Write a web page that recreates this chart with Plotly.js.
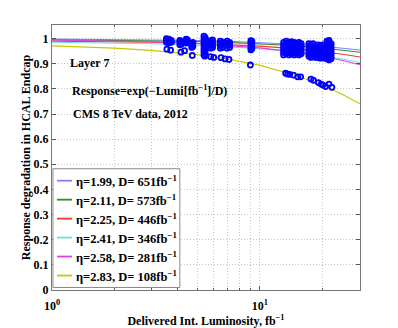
<!DOCTYPE html>
<html>
<head>
<meta charset="utf-8">
<script src="https://cdn.plot.ly/plotly-3.0.1.min.js"></script>
<style>html,body{margin:0;padding:0;background:#fff;}#chart{width:398px;height:328px;}</style>
</head>
<body>
<div id="chart"></div>
<script>
// Fitted curves at these luminosities
const lumiGrid = [1, 2, 3, 5, 7, 10, 15, 20, 25, 31];
const curveNames = [
  "η=1.99, D= 651fb<sup>−1</sup>",
  "η=2.11, D= 573fb<sup>−1</sup>",
  "η=2.25, D= 446fb<sup>−1</sup>",
  "η=2.41, D= 346fb<sup>−1</sup>",
  "η=2.58, D= 281fb<sup>−1</sup>",
  "η=2.83, D= 108fb<sup>−1</sup>"
];
const curveBlue    = [0.9985, 0.9969, 0.9954, 0.9924, 0.9893, 0.9848, 0.9772, 0.9697, 0.9623, 0.9535];
const curveGreen   = [0.9953, 0.9935, 0.9918, 0.9883, 0.9849, 0.9798, 0.9712, 0.9628, 0.9544, 0.9445];
const curveRed     = [0.9898, 0.9876, 0.9854, 0.9809, 0.9766, 0.9700, 0.9592, 0.9485, 0.9379, 0.9254];
const curveCyan    = [0.9851, 0.9823, 0.9795, 0.9738, 0.9682, 0.9599, 0.9461, 0.9325, 0.9191, 0.9033];
const curveMagenta = [0.9945, 0.9909, 0.9874, 0.9804, 0.9734, 0.9631, 0.9461, 0.9295, 0.9131, 0.8938];
const curveYellow  = [0.9710, 0.9620, 0.9532, 0.9357, 0.9185, 0.8933, 0.8529, 0.8143, 0.7775, 0.7355];
const curveColors = ["#8080ff", "#2e8b2e", "#ff3030", "#70e0e0", "#e040e0", "#c8c800"];

// Measured points, lower (η=2.83) group
const lowLumi = [3.57, 3.72, 4.17, 4.34, 4.73, 5.43, 5.8, 6.0, 6.5, 6.8, 7.1, 9.0, 13.3, 13.6, 13.9, 14.5, 15.2, 15.7, 17.6, 18.1, 19.1, 19.7, 20.1, 20.7, 21.5, 22.2];
const lowResp = [0.958, 0.954, 0.946, 0.952, 0.933, 0.930, 0.928, 0.925, 0.924, 0.919, 0.917, 0.895, 0.862, 0.859, 0.858, 0.855, 0.848, 0.848, 0.839, 0.834, 0.825, 0.819, 0.815, 0.809, 0.819, 0.806];

// Measured points, upper group (columns of points at each luminosity)
const topLumi = [3.55, 3.65, 3.75, 4.12, 4.2, 4.42, 4.48, 4.7, 4.76, 5.38, 5.46, 5.8, 5.92, 6.45, 6.6, 6.95, 7.15, 9.05, 9.15,
  13.0, 13.4, 13.8, 14.2, 14.6, 15.0, 15.4, 15.8,
  17.2, 17.6, 18.0, 18.5, 19.0, 19.5, 20.0, 20.5, 21.0, 21.5, 22.0];
const topResp = [
  [0.985, 0.993, 1.0], [0.983, 0.99, 0.998], [0.985, 0.993],
  [0.975, 0.985, 0.993], [0.978, 0.988],
  [0.982, 0.99, 0.998], [0.986, 0.995],
  [0.965, 0.973, 0.981], [0.968, 0.977, 0.985],
  [0.935, 0.948, 0.96, 0.972, 0.985, 0.998, 1.01], [0.94, 0.955, 0.968, 0.98, 0.992, 1.004],
  [0.962, 0.972, 0.982, 0.992], [0.965, 0.975, 0.985, 0.995],
  [0.962, 0.972, 0.982, 0.99], [0.965, 0.975, 0.985],
  [0.962, 0.972, 0.982, 0.99], [0.965, 0.975, 0.985],
  [0.955, 0.965, 0.975, 0.985, 0.992], [0.96, 0.97, 0.98, 0.99],
  [0.935, 0.945, 0.955, 0.965, 0.975, 0.985], [0.94, 0.95, 0.96, 0.97, 0.98, 0.99],
  [0.935, 0.945, 0.955, 0.965, 0.975, 0.985], [0.94, 0.95, 0.96, 0.97, 0.98, 0.988],
  [0.935, 0.945, 0.955, 0.965, 0.975, 0.985], [0.94, 0.95, 0.96, 0.97, 0.98],
  [0.935, 0.945, 0.955, 0.965, 0.975, 0.985], [0.94, 0.95, 0.96, 0.97, 0.98],
  [0.93, 0.94, 0.95, 0.96, 0.97, 0.98], [0.925, 0.935, 0.945, 0.955, 0.965, 0.975],
  [0.93, 0.94, 0.95, 0.96, 0.97, 0.98], [0.925, 0.935, 0.945, 0.955, 0.965],
  [0.925, 0.935, 0.945, 0.955, 0.965, 0.975], [0.922, 0.932, 0.942, 0.952, 0.962, 0.972],
  [0.925, 0.935, 0.945, 0.955, 0.965, 0.975], [0.922, 0.932, 0.942, 0.952, 0.962],
  [0.92, 0.93, 0.94, 0.95, 0.96, 0.97, 0.98, 0.99], [0.915, 0.925, 0.935, 0.945, 0.955, 0.965, 0.975, 0.985, 0.993],
  [0.92, 0.93, 0.94, 0.95, 0.96, 0.97, 0.98]
];

const xTickVals = [1, 10];
const xTickText = ["10<sup>0</sup>", "10<sup>1</sup>"];
const xMinorVals = [2, 3, 4, 5, 6, 7, 8, 9, 20];
const yTickVals = [0, 0.1, 0.2, 0.3, 0.4, 0.5, 0.6, 0.7, 0.8, 0.9, 1];
const yTickText = ["0", "0.1", "0.2", "0.3", "0.4", "0.5", "0.6", "0.7", "0.8", "0.9", "1"];

const curves = [curveBlue, curveGreen, curveRed, curveCyan, curveMagenta, curveYellow];
const traces = curves.map((c, i) => ({
  x: lumiGrid, y: c, type: "scatter", mode: "lines", name: curveNames[i], showlegend: false,
  line: {color: curveColors[i], width: 1.1}
}));

const tx = [], ty = [];
topLumi.forEach((l, i) => topResp[i].forEach(v => { tx.push(l); ty.push(v); }));
const markerStyle = {symbol: "circle-open", size: 5, color: "#0000ff", line: {width: 1.8, color: "#0000ff"}};
traces.push({x: tx, y: ty, type: "scatter", mode: "markers", showlegend: false, marker: markerStyle});
traces.push({x: lowLumi, y: lowResp, type: "scatter", mode: "markers", showlegend: false, marker: markerStyle});

const F = "Liberation Serif, Times New Roman, serif";
const GRID = "#c4c4c4";

// Legend box drawn in paper coordinates (left-bottom corner of the axes)
const legBox = {x0: 0.0032, x1: 0.415, y0: 0.0094, y1: 0.4576};
const legRowY = [0.4124, 0.3409, 0.2693, 0.1977, 0.1262, 0.0546];
const shapes = [{type: "rect", xref: "paper", yref: "paper", x0: legBox.x0, x1: legBox.x1, y0: legBox.y0, y1: legBox.y1,
  line: {color: "#8a8a8a", width: 1}, fillcolor: "#ffffff", layer: "above"}];
const annotations = [
  {text: "Layer 7", xref: "paper", yref: "paper", x: 0.052, y: 0.857, xanchor: "left", yanchor: "middle", showarrow: false, font: {family: F, size: 12, weight: "bold"}},
  {text: "Response=exp(−Lumi[fb<sup>−1</sup>]/D)", xref: "paper", yref: "paper", x: 0.0575, y: 0.7525, xanchor: "left", yanchor: "middle", showarrow: false, font: {family: F, size: 12, weight: "bold"}},
  {text: "CMS 8 TeV data, 2012", xref: "paper", yref: "paper", x: 0.061, y: 0.665, xanchor: "left", yanchor: "middle", showarrow: false, font: {family: F, size: 12, weight: "bold"}}
];
curveNames.forEach((n, i) => {
  shapes.push({type: "line", xref: "paper", yref: "paper", x0: 0.0162, x1: 0.0649, y0: legRowY[i], y1: legRowY[i],
    line: {color: curveColors[i], width: 1.8}, layer: "above"});
  annotations.push({text: n, xref: "paper", yref: "paper", x: 0.0700, y: legRowY[i], xanchor: "left", yanchor: "middle",
    showarrow: false, font: {family: F, size: 12.5, weight: "bold"}});
});

const layout = {
  width: 398, height: 328,
  margin: {l: 52, r: 38, t: 25, b: 38},
  paper_bgcolor: "#fff", plot_bgcolor: "#fff",
  font: {family: F, size: 12, color: "#000", weight: "bold"},
  showlegend: false,
  xaxis: {
    type: "log", range: [0, Math.log10(30.3)],
    tickmode: "array", tickvals: xTickVals, ticktext: xTickText,
    ticks: "inside", ticklen: 4, tickcolor: "#555",
    showline: true, linecolor: "#777", linewidth: 1, mirror: "ticks",
    showgrid: true, gridcolor: GRID, griddash: "1px,2px", gridwidth: 1,
    zeroline: false, ticklabelstandoff: 5,
    tickfont: {family: F, size: 12, weight: "bold"},
    minor: {tickmode: "array", tickvals: xMinorVals, ticks: "inside", ticklen: 2, tickcolor: "#555",
            showgrid: true, gridcolor: GRID, griddash: "1px,2px", gridwidth: 1},
    title: {text: "Delivered Int. Luminosity, fb<sup>−1</sup>", font: {family: F, size: 12, weight: "bold"}, standoff: 6}
  },
  yaxis: {
    range: [0, 1.054],
    tickmode: "array", tickvals: yTickVals, ticktext: yTickText,
    ticks: "inside", ticklen: 4, tickcolor: "#555",
    showline: true, linecolor: "#777", linewidth: 1, mirror: "ticks",
    showgrid: true, gridcolor: GRID, griddash: "1px,2px", gridwidth: 1,
    zeroline: false,
    tickfont: {family: F, size: 12, weight: "bold"},
    title: {text: "Response degradation in HCAL Endcap", font: {family: F, size: 12, weight: "bold"}, standoff: 0}
  },
  shapes: shapes,
  annotations: annotations
};
Plotly.newPlot("chart", traces, layout, {staticPlot: true, displayModeBar: false});
</script>
</body>
</html>
